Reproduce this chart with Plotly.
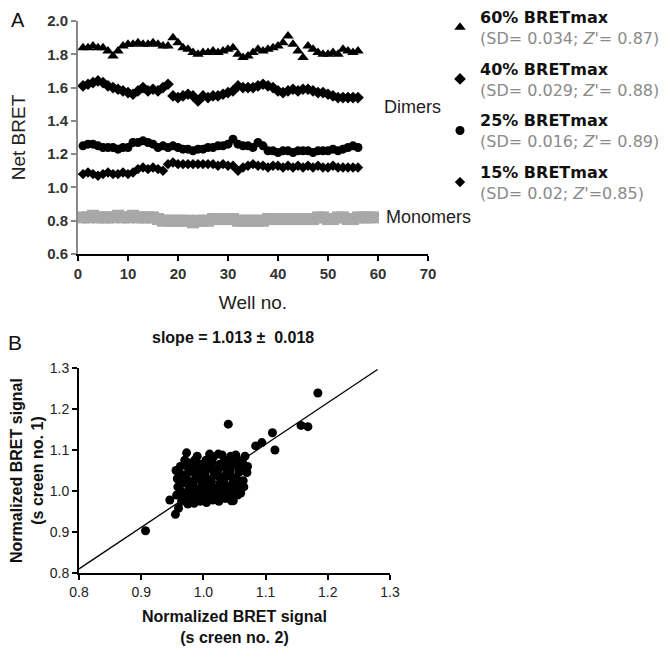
import plotly.graph_objects as go

# ---------------- Panel A data ----------------
wells_dimer = list(range(1, 57))
bret60 = [1.84, 1.84, 1.85, 1.84, 1.84, 1.82, 1.79, 1.82, 1.85,
          1.86, 1.86, 1.87, 1.86, 1.86, 1.87, 1.86, 1.85, 1.85,
          1.90, 1.87, 1.84, 1.83, 1.81,
          1.80, 1.81, 1.81, 1.82, 1.81, 1.82, 1.83, 1.84,
          1.80, 1.78, 1.79, 1.81,
          1.83, 1.82, 1.83, 1.84, 1.85,
          1.87, 1.91, 1.86, 1.82, 1.78,
          1.85, 1.83, 1.81, 1.80, 1.80, 1.81, 1.80, 1.83, 1.82, 1.81, 1.82]
bret40 = [1.61, 1.62, 1.63, 1.64, 1.63, 1.61, 1.60, 1.59, 1.58, 1.57,
          1.56, 1.58, 1.60, 1.58, 1.59, 1.58, 1.60, 1.62, 1.55, 1.54,
          1.55, 1.56, 1.55, 1.52, 1.55, 1.54, 1.55, 1.55, 1.56, 1.57,
          1.58, 1.61, 1.60, 1.60, 1.60, 1.61, 1.62, 1.61, 1.60, 1.58,
          1.57, 1.58, 1.59, 1.58, 1.59, 1.59, 1.58, 1.57, 1.57, 1.56,
          1.55, 1.54, 1.54, 1.54, 1.54, 1.54]
bret25 = [1.25, 1.26, 1.26,
          1.25, 1.24, 1.24, 1.24, 1.23, 1.24, 1.24,
          1.27, 1.27, 1.28, 1.27, 1.26,
          1.24, 1.25, 1.24, 1.25, 1.24,
          1.23, 1.23, 1.22, 1.23, 1.23, 1.24,
          1.24, 1.25, 1.25, 1.26, 1.29,
          1.26, 1.25, 1.25, 1.24, 1.27, 1.25,
          1.22, 1.22, 1.21, 1.22, 1.22, 1.21, 1.22, 1.22, 1.22, 1.21, 1.22, 1.22, 1.22, 1.23, 1.22,
          1.23, 1.24, 1.25, 1.24]
bret15 = [1.08, 1.09, 1.08, 1.07, 1.08, 1.09, 1.08, 1.08, 1.09, 1.08, 1.09,
          1.11, 1.12, 1.11, 1.12, 1.11, 1.10,
          1.14, 1.15, 1.14, 1.14, 1.14, 1.14, 1.14, 1.14, 1.14, 1.14, 1.13,
          1.14, 1.13, 1.13, 1.10, 1.12, 1.13, 1.14, 1.13, 1.13, 1.12, 1.13, 1.13,
          1.12, 1.13, 1.12, 1.13, 1.12, 1.13, 1.12, 1.13, 1.12, 1.12, 1.13, 1.12, 1.12, 1.12, 1.12, 1.12]
wells_mono = list(range(1, 60))
monomers = [0.82, 0.82, 0.83, 0.82, 0.82, 0.82, 0.82, 0.83, 0.82, 0.82, 0.83, 0.82, 0.82, 0.82, 0.82, 0.81,
            0.80, 0.80, 0.80, 0.80, 0.80, 0.80, 0.79, 0.80, 0.80, 0.80,
            0.81, 0.81, 0.81, 0.81, 0.81, 0.80, 0.80,
            0.80, 0.80, 0.80, 0.80, 0.81, 0.81, 0.81,
            0.81, 0.81, 0.81, 0.81, 0.81, 0.81, 0.81, 0.82, 0.82, 0.81, 0.81, 0.82, 0.82, 0.81, 0.81, 0.82, 0.82, 0.82, 0.82]

series_names = [
    "<b>60% BRETmax</b><br><span style='color:#8a8a8a'>(SD= 0.034; <i>Z</i>'= 0.87)</span>",
    "<b>40% BRETmax</b><br><span style='color:#8a8a8a'>(SD= 0.029; <i>Z</i>'= 0.88)</span>",
    "<b>25% BRETmax</b><br><span style='color:#8a8a8a'>(SD= 0.016; <i>Z</i>'= 0.89)</span>",
    "<b>15% BRETmax</b><br><span style='color:#8a8a8a'>(SD= 0.02; <i>Z</i>'=0.85)</span>",
]
xticks_a = [0, 10, 20, 30, 40, 50, 60, 70]
yticks_a = [0.6, 0.8, 1.0, 1.2, 1.4, 1.6, 1.8, 2.0]

# ---------------- Panel B data ----------------
screen2 = [0.907, 1.040, 1.157, 1.168, 1.184, 1.111, 1.115, 1.084, 1.094, 0.973, 0.946, 0.955, 0.960,
           0.957, 0.959, 0.958, 0.956,
           0.965, 0.966, 0.964, 0.967, 0.965, 0.963,
           0.975, 0.976, 0.974, 0.977, 0.975, 0.973, 0.976, 0.974,
           0.985, 0.984, 0.986, 0.983, 0.987, 0.985, 0.984, 0.986,
           0.995, 0.996, 0.994, 0.997, 0.995, 0.993, 0.996,
           1.005, 1.006, 1.004, 1.007, 1.005, 1.003, 1.006, 1.004,
           1.015, 1.014, 1.016, 1.013, 1.017, 1.015, 1.014, 1.016,
           1.025, 1.026, 1.024, 1.027, 1.025, 1.023, 1.026, 1.024,
           1.035, 1.034, 1.036, 1.033, 1.037, 1.035, 1.034,
           1.045, 1.046, 1.044, 1.047, 1.045, 1.043, 1.046, 1.044,
           1.055, 1.054, 1.056, 1.053, 1.057, 1.055, 1.054, 1.052,
           1.065, 1.064, 1.066, 1.063, 1.067,
           1.070, 1.071,
           0.990, 1.010, 1.030, 1.060, 1.048, 0.970]
screen1 = [0.903, 1.163, 1.160, 1.157, 1.239, 1.142, 1.100, 1.110, 1.118, 1.093, 0.978, 0.943, 0.958,
           0.990, 1.010, 1.030, 1.050,
           0.975, 0.985, 1.000, 1.020, 1.040, 1.060,
           0.968, 0.980, 0.995, 1.010, 1.025, 1.040, 1.055, 1.070,
           0.970, 0.985, 1.000, 1.015, 1.030, 1.045, 1.060, 1.075,
           0.975, 0.990, 1.005, 1.020, 1.035, 1.050, 1.065,
           0.972, 0.985, 1.000, 1.015, 1.030, 1.045, 1.060, 1.075,
           0.978, 0.992, 1.008, 1.022, 1.038, 1.052, 1.068, 1.083,
           0.975, 0.990, 1.005, 1.020, 1.035, 1.050, 1.065, 1.090,
           0.982, 0.998, 1.012, 1.028, 1.043, 1.058, 1.075,
           0.976, 0.990, 1.005, 1.020, 1.035, 1.050, 1.068, 1.085,
           0.990, 1.000, 1.015, 1.030, 1.045, 1.060, 1.078, 1.088,
           1.010, 1.025, 1.050, 1.070, 1.085,
           1.045, 1.060,
           1.085, 1.090, 1.088, 0.995, 0.976, 1.075]
fit_slope = 1.013
fit_intercept_at_08 = 0.81
fit_x = [0.8, 1.28]
fit_y = [fit_intercept_at_08 + fit_slope * (v - 0.8) for v in fit_x]
ticks_b = [0.8, 0.9, 1.0, 1.1, 1.2, 1.3]

# page body has an 8px margin: figure is placed at (8, 8)
OFF = 8
W, H = 662, 640


def px(xp):
    return (xp - OFF) / W


def py(yp):
    return 1 - (yp - OFF) / H


fig = go.Figure()

symbols = ["triangle-up", "diamond", "circle", "diamond"]
sizes = [10, 9, 9, 8]
for vals, name, sym, sz in zip([bret60, bret40, bret25, bret15], series_names, symbols, sizes):
    fig.add_trace(go.Scatter(x=wells_dimer, y=vals, mode="markers", name=name,
                             legendgroup=name,
                             marker=dict(symbol=sym, size=sz, color="black", line=dict(width=0)),
                             xaxis="x", yaxis="y"))
fig.add_trace(go.Scatter(x=wells_mono, y=monomers, mode="markers", showlegend=False,
                         marker=dict(symbol="square", size=12, color="#a8a8a8", line=dict(width=0)),
                         xaxis="x", yaxis="y"))

fig.add_trace(go.Scatter(x=fit_x, y=fit_y, mode="lines", showlegend=False,
                         line=dict(color="black", width=1.3), xaxis="x2", yaxis="y2"))
fig.add_trace(go.Scatter(x=screen2, y=screen1, mode="markers", showlegend=False,
                         marker=dict(symbol="circle", size=9, color="black", line=dict(width=0)),
                         xaxis="x2", yaxis="y2"))

tickA = dict(family="Liberation Sans", size=15, color="#333")
tickB = dict(family="Liberation Sans", size=14, color="#222")
titleB = dict(family="Liberation Sans", size=16, color="#111", weight="bold")

fig.update_layout(
    width=W, height=H, margin=dict(l=0, r=0, t=0, b=0, autoexpand=False),
    paper_bgcolor="white", plot_bgcolor="white",
    showlegend=True,
    legend=dict(x=px(440), y=py(0), xanchor="left", yanchor="top",
                font=dict(family="DejaVu Sans", size=16, color="#111"),
                tracegroupgap=7, itemwidth=30, bgcolor="rgba(0,0,0,0)"),
    xaxis=dict(domain=[px(78), px(428)], range=[0, 70], tickvals=xticks_a,
               ticktext=["<b>%d</b>" % v for v in xticks_a],
               showline=True, linecolor="black", linewidth=2, ticks="outside",
               ticklen=5, tickwidth=2, tickcolor="black", showgrid=False, zeroline=False,
               tickfont=tickA, anchor="y", automargin=False,
               title=dict(text="Well no.", font=dict(family="Liberation Sans", size=19, color="#222"),
                          standoff=15)),
    yaxis=dict(domain=[py(254), py(21)], range=[0.6, 2.0], tickvals=yticks_a,
               ticktext=["<b>%.1f</b>" % v for v in yticks_a],
               showline=True, linecolor="#888", linewidth=2, ticks="outside",
               ticklen=5, tickwidth=2, tickcolor="#888", showgrid=False, zeroline=False,
               tickfont=tickA, anchor="x", automargin=False,
               title=dict(text="Net BRET", font=dict(family="Liberation Sans", size=19, color="#222"),
                          standoff=16)),
    xaxis2=dict(domain=[px(79), px(390)], range=[0.8, 1.3], tickvals=ticks_b, tickformat=".1f",
                showline=True, linecolor="black", linewidth=2, ticks="outside",
                ticklen=5, tickwidth=1.5, tickcolor="black", showgrid=False, zeroline=False,
                tickfont=tickB, anchor="y2", automargin=False,
                title=dict(text="Normalized BRET signal<br>(s creen no. 2)", font=titleB, standoff=12)),
    yaxis2=dict(domain=[py(573), py(368)], range=[0.8, 1.3], tickvals=ticks_b, tickformat=".1f",
                showline=True, linecolor="black", linewidth=2, ticks="outside",
                ticklen=5, tickwidth=1.5, tickcolor="black", showgrid=False, zeroline=False,
                tickfont=tickB, anchor="x2", automargin=False,
                title=dict(text="Normalized BRET signal<br>(s creen no. 1)", font=titleB, standoff=8)),
)

annos = [
    dict(text="A", x=px(9), y=py(20), font=dict(family="Liberation Sans", size=20, color="#111")),
    dict(text="B", x=px(6), y=py(342), font=dict(family="Liberation Sans", size=21, color="#111")),
    dict(text="Dimers", x=px(382), y=py(107), font=dict(family="Liberation Sans", size=18, color="#222")),
    dict(text="Monomers", x=px(384), y=py(217), font=dict(family="Liberation Sans", size=18, color="#222")),
]
for a in annos:
    fig.add_annotation(xref="paper", yref="paper", xanchor="left", yanchor="middle",
                       showarrow=False, **a)
fig.add_annotation(xref="paper", yref="paper", x=px(233), y=py(337), xanchor="center",
                   yanchor="middle", showarrow=False,
                   text="slope = 1.013 ±&nbsp;&nbsp;0.018",
                   font=dict(family="Liberation Sans", size=16, color="#111", weight="bold"))

fig.write_html("out.html")
